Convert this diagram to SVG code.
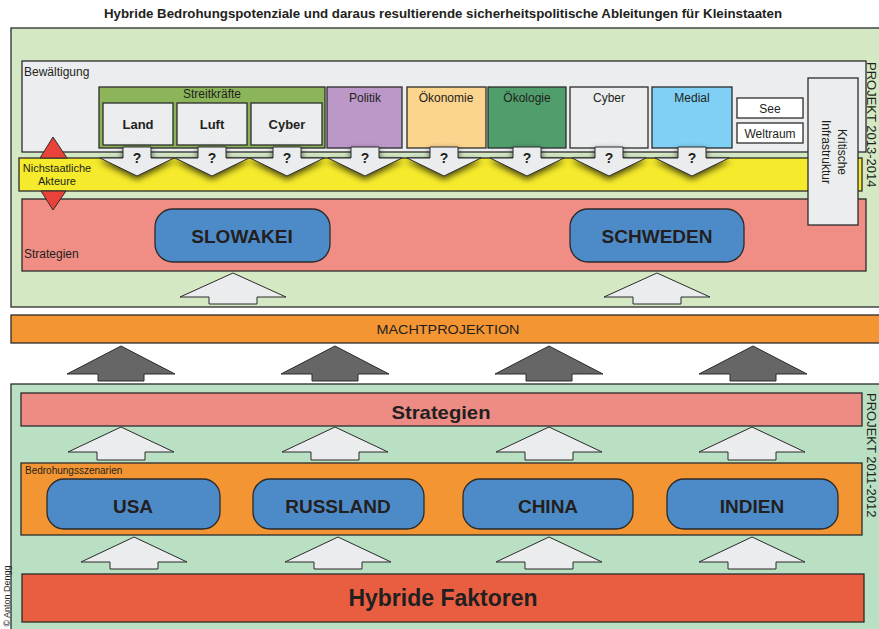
<svg xmlns="http://www.w3.org/2000/svg" width="879" height="629" viewBox="0 0 879 629">
<style>
text{font-family:"Liberation Sans",Arial,sans-serif;fill:#231f20}
.b{font-weight:bold}
.s{stroke:#2b2b2b;stroke-width:1.3}
.t{stroke:#2b2b2b;stroke-width:1}
.wa{fill:#ebecee;stroke:#2b2b2b;stroke-width:1}
.da{fill:#666;stroke:#2b2b2b;stroke-width:1}
.pill{fill:#4d8bc8;stroke:#2b2b2b;stroke-width:1.3}
.lab{font-size:12px}
.big{font-size:19px;font-weight:bold;text-anchor:middle}
.q{font-size:14px;font-weight:bold;text-anchor:middle}
</style>
<defs>
<filter id="sh" x="-40%" y="-40%" width="180%" height="200%">
<feDropShadow dx="0" dy="3" stdDeviation="3" flood-color="#000" flood-opacity="0.7"/>
</filter>
<path id="qa" d="M-14,147 L14,147 L14,158 L37,158 L0,176 L-37,158 L-14,158 Z"/>
</defs>
<rect width="879" height="629" fill="#ffffff"/>
<text x="443" y="18" class="b" font-size="12" text-anchor="middle" textLength="678" lengthAdjust="spacingAndGlyphs">Hybride Bedrohungspotenziale und daraus resultierende sicherheitspolitische Ableitungen für Kleinstaaten</text>

<g id="projekt-2013">
<rect x="11" y="28" width="880" height="279" fill="#d4e8c4" class="s"/>
<text transform="translate(867,62) rotate(90)" font-size="13">PROJEKT 2013-2014</text>
</g>
<g id="bewaeltigung">
<rect x="22" y="61" width="844" height="91" fill="#ecedee" class="s"/>
<text x="24" y="76" class="lab">Bewältigung</text>
</g>
<g id="streitkraefte">
<rect x="99" y="87" width="226" height="61" fill="#8cb55a" class="s"/>
<text x="212" y="98" class="lab" text-anchor="middle">Streitkräfte</text>
</g>
<g id="land"><rect x="103" y="103" width="70" height="42" fill="#ecedee" class="s"/><text x="138" y="129" class="b" font-size="13" text-anchor="middle">Land</text></g>
<g id="luft"><rect x="177" y="103" width="70" height="42" fill="#ecedee" class="s"/><text x="212" y="129" class="b" font-size="13" text-anchor="middle">Luft</text></g>
<g id="cyber-mil"><rect x="251" y="103" width="71" height="42" fill="#ecedee" class="s"/><text x="287" y="129" class="b" font-size="13" text-anchor="middle">Cyber</text></g>
<g id="politik"><rect x="327" y="87" width="75" height="61" fill="#bc98c9" class="s"/><text x="365" y="102" class="lab" text-anchor="middle">Politik</text></g>
<g id="oekonomie"><rect x="407" y="87" width="79" height="61" fill="#fbd48d" class="s"/><text x="446" y="102" class="lab" text-anchor="middle">Ökonomie</text></g>
<g id="oekologie"><rect x="488" y="87" width="78" height="61" fill="#4f9e6b" class="s"/><text x="527" y="102" class="lab" text-anchor="middle">Ökologie</text></g>
<g id="cyber"><rect x="570" y="87" width="78" height="61" fill="#ecedee" class="s"/><text x="609" y="102" class="lab" text-anchor="middle">Cyber</text></g>
<g id="medial"><rect x="652" y="87" width="80" height="61" fill="#7fd0f4" class="s"/><text x="692" y="102" class="lab" text-anchor="middle">Medial</text></g>
<g id="see"><rect x="737" y="98" width="66" height="20" fill="#ffffff" class="s"/><text x="770" y="113" class="lab" text-anchor="middle">See</text></g>
<g id="weltraum"><rect x="737" y="123" width="66" height="20" fill="#ffffff" class="s"/><text x="770" y="138" class="lab" text-anchor="middle">Weltraum</text></g>

<g id="nichtstaatliche-akteure">
<rect x="19" y="158" width="843" height="33" fill="#f5ea2b" class="s"/>
<text x="57" y="172" font-size="11" text-anchor="middle">Nichstaatliche</text>
<text x="57" y="185" font-size="11" text-anchor="middle">Akteure</text>
</g>
<g id="strategien-oben">
<rect x="22" y="199" width="844" height="72" fill="#f08d84" class="s"/>
<text x="24" y="258" class="lab">Strategien</text>
</g>
<g id="kritische-infrastruktur">
<rect x="808" y="78" width="50" height="147" fill="#ecedee" class="s"/>
<text transform="translate(838,152) rotate(90)" class="lab" text-anchor="middle">Kritische</text>
<text transform="translate(822,152) rotate(90)" class="lab" text-anchor="middle">Infrastruktur</text>
</g>
<g id="slowakei"><rect x="155" y="209" width="175" height="53" rx="18" class="pill"/><text x="242" y="243" class="big">SLOWAKEI</text></g>
<g id="schweden"><rect x="570" y="209" width="174" height="53" rx="18" class="pill"/><text x="657" y="243" class="big">SCHWEDEN</text></g>

<g id="machtprojektion">
<rect x="11" y="315" width="880" height="28" fill="#f39532" class="s"/>
<text x="448" y="334" font-size="13" text-anchor="middle" textLength="143" lengthAdjust="spacingAndGlyphs">MACHTPROJEKTION</text>
</g>

<g id="projekt-2011">
<rect x="11" y="384" width="880" height="260" fill="#b9e0c3" class="s"/>
<text transform="translate(867,393) rotate(90)" font-size="13">PROJEKT 2011-2012</text>
<text transform="translate(10,596) rotate(-90)" font-size="9" text-anchor="middle">© Anton Dengg</text>
</g>
<g id="strategien-unten">
<rect x="21" y="393" width="841" height="33" fill="#ec8c85" class="s"/>
<text x="441" y="419" class="b" font-size="19" text-anchor="middle" textLength="99" lengthAdjust="spacingAndGlyphs">Strategien</text>
</g>
<g id="bedrohungsszenarien">
<rect x="21" y="463" width="841" height="72" fill="#f39532" class="s"/>
<text x="25" y="474" font-size="10">Bedrohungsszenarien</text>
</g>
<g id="usa"><rect x="47" y="479" width="173" height="50" rx="17" class="pill"/><text x="133" y="513" class="big">USA</text></g>
<g id="russland"><rect x="253" y="479" width="171" height="50" rx="17" class="pill"/><text x="338" y="513" class="big">RUSSLAND</text></g>
<g id="china"><rect x="463" y="479" width="170" height="50" rx="17" class="pill"/><text x="548" y="513" class="big">CHINA</text></g>
<g id="indien"><rect x="667" y="479" width="171" height="50" rx="17" class="pill"/><text x="752" y="513" class="big">INDIEN</text></g>
<g id="hybride-faktoren">
<rect x="22" y="574" width="842" height="48" fill="#e95e41" class="s"/>
<text x="443" y="606" class="b" font-size="23" text-anchor="middle">Hybride Faktoren</text>
</g>

<g id="connectors">
<g filter="url(#sh)" class="wa">
<use href="#qa" x="137"/><use href="#qa" x="212"/><use href="#qa" x="287"/><use href="#qa" x="365"/>
<use href="#qa" x="444"/><use href="#qa" x="527"/><use href="#qa" x="609"/><use href="#qa" x="692"/>
</g>
<text x="137" y="163" class="q">?</text><text x="212" y="163" class="q">?</text><text x="287" y="163" class="q">?</text><text x="365" y="163" class="q">?</text>
<text x="444" y="163" class="q">?</text><text x="527" y="163" class="q">?</text><text x="609" y="163" class="q">?</text><text x="692" y="163" class="q">?</text>
<path d="M53,137 L67,158 L40,158 Z" fill="#e8423a" class="t"/>
<path d="M41,191 L66,191 L53,210 Z" fill="#e8423a" class="t"/>
<path class="wa" d="M233,273 L286,297 L257,297 L257,304 L209,304 L209,297 L180,297 Z"/>
<path class="wa" d="M657,273 L710,297 L681,297 L681,304 L633,304 L633,297 L604,297 Z"/>
<path class="da" d="M121,346 L175,374 L144,374 L144,381 L98,381 L98,374 L67,374 Z"/>
<path class="da" d="M335,346 L389,374 L358,374 L358,381 L312,381 L312,374 L281,374 Z"/>
<path class="da" d="M549,346 L603,374 L572,374 L572,381 L526,381 L526,374 L495,374 Z"/>
<path class="da" d="M753,346 L807,374 L776,374 L776,381 L730,381 L730,374 L699,374 Z"/>
<path class="wa" d="M121,427 L174,452 L145,452 L145,460 L97,460 L97,452 L68,452 Z"/>
<path class="wa" d="M335,427 L388,452 L359,452 L359,460 L311,460 L311,452 L282,452 Z"/>
<path class="wa" d="M549,427 L602,452 L573,452 L573,460 L525,460 L525,452 L496,452 Z"/>
<path class="wa" d="M752,427 L805,452 L776,452 L776,460 L728,460 L728,452 L699,452 Z"/>
<path class="wa" d="M134,537 L187,562 L158,562 L158,569 L110,569 L110,562 L81,562 Z"/>
<path class="wa" d="M338,537 L391,562 L362,562 L362,569 L314,569 L314,562 L285,562 Z"/>
<path class="wa" d="M549,537 L602,562 L573,562 L573,569 L525,569 L525,562 L496,562 Z"/>
<path class="wa" d="M752,537 L805,562 L776,562 L776,569 L728,569 L728,562 L699,562 Z"/>
</g>
</svg>
